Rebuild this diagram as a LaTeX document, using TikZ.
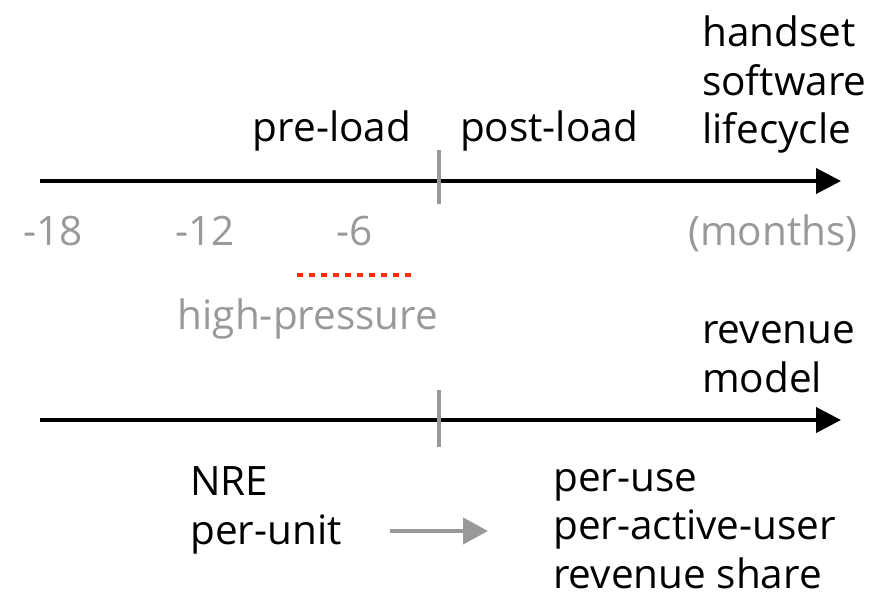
\documentclass[tikz,border=0pt]{standalone}
\usepackage{fontspec}
\setmainfont{Open Sans}
\usetikzlibrary{arrows.meta}
\definecolor{tickgray}{RGB}{153,153,153}
\definecolor{hotred}{RGB}{255,42,0}
\begin{document}
\begin{tikzpicture}[x=1pt, y=-1pt,
  lbl/.style={inner sep=0pt, font=\fontsize{40.5}{48.5}\selectfont, align=left},
  grey/.style={lbl, text=tickgray},
  axis/.style={line width=4pt, -{Triangle[length=25pt,width=25pt]}},
  tick/.style={line width=4pt, tickgray}]
\useasboundingbox (0,0) rectangle (881,596);

% lifecycle axis
\coordinate (t0) at (40,181);
\coordinate (t1) at (841,181);
\coordinate (ktop) at (439,150);
\coordinate (kbot) at (439,204);
\draw[axis] (t0) -- (t1);
\draw[tick] (ktop) -- (kbot);

\node[lbl, anchor=base west] (life) at (702,144) {handset\\software\\lifecycle};
\node[lbl, anchor=base] (pre) at (332,142) {pre-load};
\node[lbl, anchor=base] (post) at (549,142) {post-load};

\node[grey, anchor=base] (m18) at (53,246) {-18};
\node[grey, anchor=base] (m12) at (205,246) {-12};
\node[grey, anchor=base] (m6) at (355,246) {-6};
\node[grey, anchor=base] (months) at (773,246) {(months)};

% high pressure window
\coordinate (hp0) at (297,275);
\coordinate (hp1) at (414,275);
\draw[hotred, line width=4pt, dash pattern=on 6pt off 6pt] (hp0) -- (hp1);
\node[grey, anchor=base] (press) at (308,329) {high-pressure};

% revenue axis
\coordinate (r0) at (40,420);
\coordinate (r1) at (841,420);
\coordinate (jtop) at (439,390);
\coordinate (jbot) at (439,447);
\draw[axis] (r0) -- (r1);
\draw[tick] (jtop) -- (jbot);

\node[lbl, anchor=base west] (rev) at (702,392) {revenue\\model};
\node[lbl, anchor=base west] (old) at (190,544) {NRE\\per-unit};
\node[lbl, anchor=base west] (new) at (553,588) {per-use\\per-active-user\\revenue share};

\coordinate (g0) at (390,531);
\coordinate (g1) at (488,531);
\draw[line width=4pt, tickgray, -{Triangle[length=25pt,width=26pt]}] (g0) -- (g1);
\end{tikzpicture}
\end{document}
